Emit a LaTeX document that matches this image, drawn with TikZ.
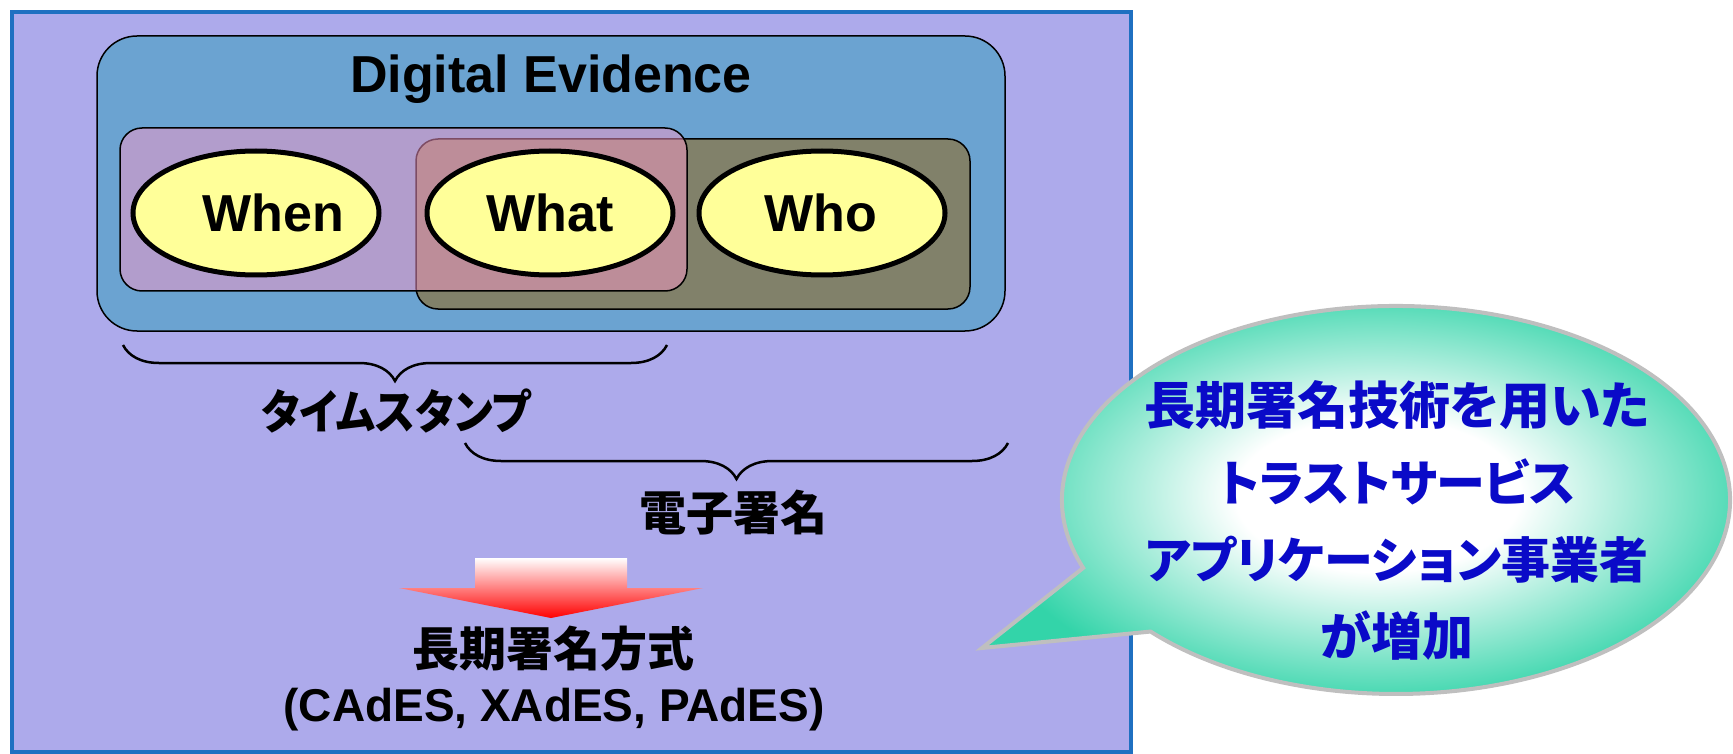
\documentclass[tikz,border=0pt]{standalone}
\usepackage{fontspec}
\setmainfont{Liberation Sans}
\newfontfamily\jp{Noto Sans CJK JP}[RawFeature={+palt}]
\usetikzlibrary{shapes.geometric,decorations.pathreplacing}
\definecolor{framefill}{HTML}{ADAAEB}
\definecolor{frameblue}{HTML}{1F70C1}
\definecolor{evidblue}{HTML}{6BA3D1}
\definecolor{signolive}{HTML}{81816A}
\definecolor{stamppink}{HTML}{FA99C8}
\definecolor{ovalyellow}{HTML}{FFFF99}
\definecolor{bubbleteal}{HTML}{33D4A9}
\definecolor{bubblegray}{HTML}{BFBFBF}
\definecolor{bubbleblue}{HTML}{0A0AC8}
\pgfdeclareradialshading{bubbleglow}{\pgfpoint{0bp}{0bp}}{color(0bp)=(white); color(9bp)=(white); color(25bp)=(bubbleteal); color(50bp)=(bubbleteal)}
\begin{document}
\begin{tikzpicture}
  [x=1pt,y=-1pt,
   box/.style={draw=black,line width=1.5pt},
   oval/.style={ellipse,draw,line width=5pt,fill=ovalyellow,minimum width=246pt,minimum height=124pt,inner sep=0pt},
   word/.style={font=\bfseries\fontsize{52}{60}\selectfont,inner sep=0pt,anchor=base},
   jtext/.style={font=\jp\bfseries\fontsize{47}{56}\selectfont,inner sep=0pt},
   bracket/.style={decorate,decoration={brace,mirror,amplitude=36pt},line width=2.5pt}]
  \useasboundingbox (0,0) rectangle (1733,754);
  \draw[frameblue,line width=3.5pt,fill=framefill] (12,12) rectangle (1131,752);

  \draw[box,fill=evidblue,rounded corners=40pt] (97,36) rectangle (1005,331);
  \node[word] (title) at (551,93) {Digital Evidence};
  \draw[box,fill=signolive,rounded corners=22pt] (416,139) rectangle (970,309);
  \draw[box,fill=stamppink,fill opacity=0.5,rounded corners=22pt] (120,128) rectangle (687,291);
  \foreach \nm/\x/\tx/\lbl in {when/256/273/When,what/550/550/What,who/822/821/Who} {
    \node[oval] (\nm) at (\x,213) {};
    \node[word] (\nm txt) at (\tx,232) {\lbl};
  }

  \coordinate (sa) at (123,345);
  \coordinate (sb) at (667,345);
  \draw[bracket] (sa) -- (sb);
  \node[jtext,xscale=0.9] (stamp) at (396,411) {タイムスタンプ};
  \coordinate (ga) at (465,443);
  \coordinate (gb) at (1008,443);
  \draw[bracket] (ga) -- (gb);
  \node[jtext] (sign) at (733,513) {電子署名};

  \shade[top color=white,bottom color=red] (475,558) -- (627,558) -- (627,588) -- (703,588)
    -- (551,618) -- (399,588) -- (475,588) -- cycle;
  \node[jtext] (scheme) at (553,649) {長期署名方式};
  \node[word,font=\bfseries\fontsize{46}{54}\selectfont] (formats) at (554,721) {(CAdES, XAdES, PAdES)};

  \coordinate (bubc) at (1396,500);
  \coordinate (tailtip) at (982,648);
  \shadedraw[shading=bubbleglow,draw=bubblegray,line width=4pt] (bubc) ++(159.5:334 and 194)
    arc[start angle=159.5,end angle=497.3,x radius=334,y radius=194] -- (tailtip) -- cycle;
  \node[jtext,text=bubbleblue,align=center,font=\jp\bfseries\fontsize{51}{77}\selectfont] (claim) at (1397,520)
    {長期署名技術を用いた\\{\fontsize{49}{77}\selectfont トラストサービス}\\{\fontsize{49}{77}\selectfont アプリケーション事業者}\\が増加};
\end{tikzpicture}
\end{document}
